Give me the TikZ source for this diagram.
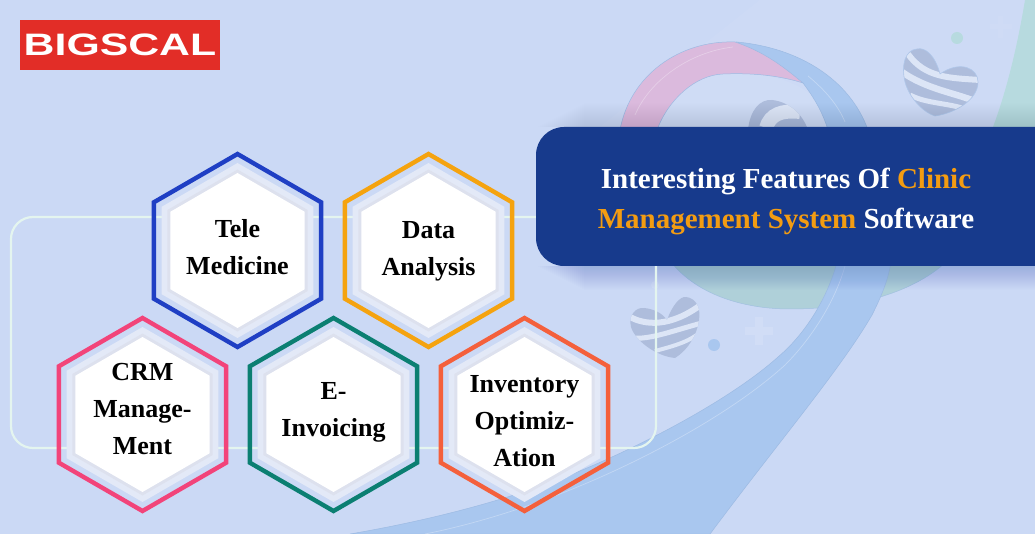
\documentclass[tikz,border=0pt]{standalone}
\usepackage{fontspec}
\setmainfont{Liberation Serif}
\newfontfamily\logofont[FakeStretch=1.38]{Liberation Sans}
\usetikzlibrary{shapes.geometric}
\definecolor{bgc}{HTML}{CBD9F5}
\definecolor{ribbon}{HTML}{A9C7EF}
\definecolor{ribedge}{HTML}{9DBBE3}
\definecolor{pinkc}{HTML}{DBBADD}
\definecolor{tealc}{HTML}{AFD0D9}
\definecolor{tealb}{HTML}{B7DADF}
\definecolor{heartc}{HTML}{AEBDDC}
\definecolor{stripec}{HTML}{DCE5F6}
\definecolor{bandc}{HTML}{E3E9F7}
\definecolor{bandd}{HTML}{DDE1EE}
\definecolor{bannerc}{HTML}{173A8C}
\definecolor{orangec}{HTML}{F39C12}
\definecolor{linec}{HTML}{E4F5EF}
\definecolor{logored}{HTML}{E22D27}
\definecolor{hblue}{HTML}{1F3FC4}
\definecolor{horange}{HTML}{F5A30F}
\definecolor{hpink}{HTML}{F2447A}
\definecolor{hgreen}{HTML}{0B7F72}
\definecolor{hred}{HTML}{F4603C}
\tikzset{
  hexbase/.style={regular polygon,regular polygon sides=6,shape border rotate=30,inner sep=0pt,outer sep=0pt},
  hexline/.style={hexbase,minimum size=193pt,line width=4.4pt},
  hexband/.style={hexbase,minimum size=175pt,fill=bandc},
  hexshade/.style={hexbase,minimum size=162pt,fill=bandd},
  hexcore/.style={hexbase,minimum size=155pt,fill=white},
  hextext/.style={align=center,font=\fontsize{26}{37}\selectfont\bfseries,text=black,inner sep=0pt},
  decoedge/.style={draw=ribedge,line width=.5pt},
  gleam/.style={draw=white,opacity=.3,line width=.7pt}
}
\newcommand{\hexa}[6]{%
  \node[hexline,draw=#4] (#1o) at (#2,#3) {};
  \node[hexband] (#1b) at (#2,#3) {};
  \node[hexshade] (#1s) at (#2,#3) {};
  \node[hexcore] (#1c) at (#2,#3) {};
  \node[hextext] (#1t) at (#2,#5) {#6};
}
\begin{document}
\begin{tikzpicture}[x=1pt,y=-1pt]
\useasboundingbox (0,0) rectangle (1035,534);
\clip (0,0) rectangle (1035,534);
\fill[bgc] (0,0) rectangle (1035,534);
\fill[white,opacity=.05] (0,0) (1035,0) -- (1035,127) -- (600,127) -- (760,0) -- cycle;
% teal blobs
\fill[tealb] (1025,0) .. controls (1015,60) and (1003,100) .. (993,127) -- (1035,127) -- (1035,0) -- cycle;
\filldraw[fill=tealc,draw=ribedge!70!tealc,line width=.5pt] (671,262) .. controls (700,298) and (750,309) .. (790,309) .. controls (850,309) and (910,295) .. (946,262) -- cycle;
% ring
\fill[white,opacity=.06] (657,127) .. controls (670,95) and (695,72) .. (735,72) .. controls (790,74) and (825,95) .. (832,127) -- cycle;
\filldraw[fill=ribbon,decoedge] (737,42) .. controls (800,48) and (850,80) .. (868,130) -- (828,130) .. controls (822,110) and (812,95) .. (803,83) -- cycle;
\filldraw[fill=pinkc,decoedge] (620,130) .. controls (630,75) and (680,40) .. (735,42) .. controls (765,52) and (785,68) .. (803,83) .. controls (775,74) and (745,73) .. (723,74) .. controls (695,75) and (668,100) .. (657,130) -- cycle;
\draw[gleam] (635,115) .. controls (650,80) and (690,52) .. (733,47);
\draw[gleam] (808,76) .. controls (825,90) and (838,105) .. (845,122);
% ribbon
\filldraw[fill=ribbon,decoedge] (837,262) .. controls (830,290) and (810,330) .. (778,357) .. controls (730,400) and (640,447) .. (570,475) .. controls (500,503) and (420,522) .. (350,534) -- (710,534) .. controls (780,440) and (840,370) .. (872,315) .. controls (882,295) and (888,280) .. (891,262) -- cycle;
\draw[gleam] (846,262) .. controls (838,295) and (815,335) .. (785,365) .. controls (730,415) and (640,462) .. (570,490) .. controls (520,510) and (470,525) .. (425,534);
% middle heart
\begin{scope}
\clip (748,130) .. controls (750,110) and (760,99) .. (772,100) .. controls (790,102) and (803,115) .. (808,130) -- cycle;
\fill[heartc] (740,95) rectangle (815,130);
\draw[stripec,line width=14pt] (766,128) .. controls (770,114) and (782,110) .. (800,112);
\end{scope}
% top heart
\begin{scope}
\clip (940,74) .. controls (935,55) and (925,47) .. (917,49) .. controls (905,50) and (901,65) .. (905,82) .. controls (910,100) and (925,113) .. (935,116) .. controls (955,113) and (978,100) .. (978,82) .. controls (978,68) and (960,60) .. (940,74) -- cycle;
\fill[heartc] (900,45) rectangle (980,120);
\draw[stripec,line width=6pt] (908,54) .. controls (925,78) and (950,78) .. (980,80);
\draw[stripec,line width=6.5pt] (902,72) .. controls (925,88) and (950,92) .. (972,100);
\draw[stripec,line width=5pt] (910,95) .. controls (925,103) and (945,103) .. (962,108);
\end{scope}
\draw[draw=ribedge!60!bgc,line width=.6pt] (940,74) .. controls (935,55) and (925,47) .. (917,49) .. controls (905,50) and (901,65) .. (905,82) .. controls (910,100) and (925,113) .. (935,116) .. controls (955,113) and (978,100) .. (978,82) .. controls (978,68) and (960,60) .. (940,74) -- cycle;
% lower heart
\begin{scope}
\clip (667,320) .. controls (672,306) and (680,296) .. (686,297) .. controls (696,298) and (701,308) .. (699,320) .. controls (697,335) and (688,350) .. (675,358) .. controls (655,356) and (635,340) .. (631,327) .. controls (628,315) and (636,307) .. (644,308) .. controls (654,309) and (662,313) .. (667,320) -- cycle;
\fill[heartc] (625,290) rectangle (705,360);
\draw[stripec,line width=6pt] (630,317) .. controls (645,325) and (670,328) .. (702,304);
\draw[stripec,line width=5pt] (632,338) .. controls (650,340) and (675,330) .. (702,323);
\draw[stripec,line width=4pt] (655,351) .. controls (670,347) and (690,342) .. (700,332);
\end{scope}
% dots and plus signs
\fill[tealb] (957,38) circle (6);
\fill[bgc!88!white] (655,285) circle (4);
\fill[ribbon] (714,345) circle (6);
\fill[white,opacity=.13] (755,317) rectangle (763,345) (745,327) rectangle (773,335);
\fill[white,opacity=.05] (998,16) rectangle (1003,38) (990,24) rectangle (1012,29);
% banner shadow
\foreach \i in {1,...,24}{
  \fill[bannerc,opacity=.004] (536+2*\i,127-\i) rectangle (1035,127);
  \fill[bannerc,opacity=.007] (536+2*\i,266) rectangle (1035,266+\i);
}
% rounded outline behind the hexagons
\draw[linec,line width=2.2pt,rounded corners=22pt] (11,217) rectangle (656,448);
% hexagons
\hexa{tm}{237.5}{250.5}{hblue}{247.5}{Tele\\Medicine}
\hexa{da}{428.5}{250.5}{horange}{251}{Data\\Analysis}
\hexa{crm}{142.5}{414.5}{hpink}{409}{CRM\\Manage-\\Ment}
\hexa{ei}{333.5}{414.5}{hgreen}{412.5}{E-\\Invoicing}
\hexa{io}{524.5}{414.5}{hred}{421.5}{Inventory\\Optimiz-\\Ation}
% banner
\fill[bannerc,rounded corners=28pt] (1100,127) -- (536,127) -- (536,266) -- (1100,266) -- cycle;
\node[align=center,text=white,font=\fontsize{29}{40}\selectfont\bfseries,inner sep=0pt] (title) at (786,201) {Interesting Features Of {\color{orangec}Clinic}\\{\color{orangec}Management System} Software};
% logo
\fill[logored] (20,20) rectangle (220,70);
\node[text=white,font=\logofont\fontsize{31}{31}\selectfont\bfseries,inner sep=0pt] (logo) at (120,45) {BIGSCAL};
\end{tikzpicture}
\end{document}
